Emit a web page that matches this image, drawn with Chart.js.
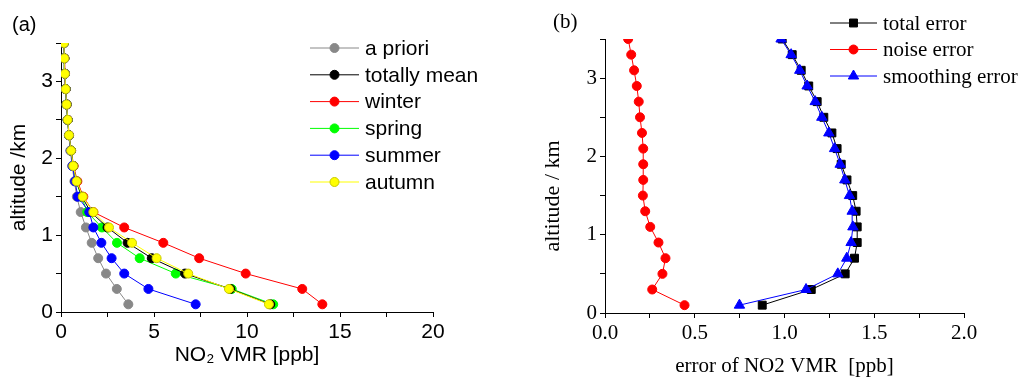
<!DOCTYPE html>
<html>
<head>
<meta charset="utf-8">
<script src="https://cdn.jsdelivr.net/npm/chart.js@4.4.1/dist/chart.umd.min.js"></script>
<style>
  html, body { margin: 0; padding: 0; background: #fff; }
  #wrap { position: relative; width: 1021px; height: 377px; }
  canvas { position: absolute; top: 0; }
  #chartA { left: 0; }
  #chartB { left: 510px; }
</style>
</head>
<body>
<div id="wrap">
  <canvas id="chartA" width="510" height="377"></canvas>
  <canvas id="chartB" width="511" height="377"></canvas>
</div>
<script>
// altitude levels (km), shared by both panels
const altitudes = [0.1, 0.3, 0.5, 0.7, 0.9, 1.1, 1.3, 1.5, 1.7, 1.9, 2.1, 2.3, 2.5, 2.7, 2.9, 3.1, 3.3, 3.5];

// panel (a): NO2 VMR profiles [ppb]
const aPriori  = [3.62, 3.0, 2.42, 2.0, 1.65, 1.34, 1.06, 0.85, 0.72, 0.6, 0.5, 0.42, 0.35, 0.3, 0.25, 0.21, 0.18, 0.16];
const totMean  = [11.25, 9.1, 6.67, 4.88, 3.58, 2.5, 1.6, 1.12, 0.83, 0.66, 0.54, 0.43, 0.36, 0.3, 0.25, 0.21, 0.18, 0.16];
const winter   = [14.05, 12.97, 9.93, 7.43, 5.5, 3.4, 1.74, 1.2, 0.88, 0.68, 0.55, 0.44, 0.37, 0.31, 0.26, 0.22, 0.19, 0.16];
const spring   = [11.41, 9.18, 6.17, 4.23, 3.01, 2.2, 1.41, 1.1, 0.82, 0.65, 0.54, 0.43, 0.36, 0.3, 0.25, 0.21, 0.18, 0.16];
const summer   = [7.24, 4.7, 3.4, 2.72, 2.17, 1.74, 1.52, 0.9, 0.76, 0.62, 0.52, 0.43, 0.36, 0.3, 0.25, 0.21, 0.18, 0.16];
const autumn   = [11.18, 9.03, 6.84, 5.14, 3.82, 2.58, 1.74, 1.17, 0.84, 0.66, 0.54, 0.43, 0.36, 0.3, 0.25, 0.21, 0.18, 0.16];

// panel (b): retrieval errors [ppb]
const totalErr  = [0.876, 1.149, 1.338, 1.39, 1.405, 1.405, 1.399, 1.38, 1.348, 1.316, 1.293, 1.264, 1.219, 1.182, 1.135, 1.093, 1.043, 0.987];
const noiseErr  = [0.443, 0.263, 0.32, 0.337, 0.298, 0.252, 0.224, 0.211, 0.213, 0.213, 0.213, 0.206, 0.195, 0.188, 0.177, 0.162, 0.146, 0.129];
const smoothErr = [0.749, 1.12, 1.297, 1.347, 1.371, 1.381, 1.377, 1.362, 1.336, 1.31, 1.279, 1.247, 1.208, 1.171, 1.126, 1.085, 1.037, 0.981];

// tick labels
const xTicksA = [0, 5, 10, 15, 20];
const yTicks = [0, 1, 2, 3];
const xTicksB = [0, 0.5, 1.0, 1.5, 2.0];

const SANS = '"Liberation Sans", Arial, sans-serif';
const SERIF = '"Liberation Serif", "Times New Roman", serif';

function profile(vals) {
  return vals.map((v, i) => ({ x: v, y: altitudes[i] }));
}

function drawMarker(ctx, style, x, y, r, fill, stroke) {
  ctx.beginPath();
  if (style === 'rect') {
    const s = r * Math.SQRT1_2;
    ctx.rect(x - s, y - s, 2 * s, 2 * s);
  } else if (style === 'triangle') {
    ctx.moveTo(x, y - r);
    ctx.lineTo(x + r * 0.866, y + r * 0.5);
    ctx.lineTo(x - r * 0.866, y + r * 0.5);
    ctx.closePath();
  } else {
    ctx.arc(x, y, r, 0, Math.PI * 2);
  }
  ctx.fillStyle = fill;
  ctx.fill();
  ctx.strokeStyle = stroke;
  ctx.lineWidth = 1;
  ctx.stroke();
}

// panel letter, in-plot legend and optional free text
const panelDecor = {
  id: 'panelDecor',
  afterDraw(chart, args, o) {
    const ctx = chart.ctx;
    ctx.save();
    ctx.fillStyle = '#000';
    ctx.textBaseline = 'middle';
    ctx.textAlign = 'left';
    ctx.font = o.labelFont;
    ctx.fillText(o.label, o.labelX, o.labelY);

    ctx.font = o.legFont;
    chart.data.datasets.forEach((ds, i) => {
      const y = o.legY + i * o.legDy;
      ctx.strokeStyle = ds.borderColor;
      ctx.lineWidth = 1;
      ctx.beginPath();
      ctx.moveTo(o.legX, y);
      ctx.lineTo(o.legX + o.legLen, y);
      ctx.stroke();
      drawMarker(ctx, ds.pointStyle, o.legX + o.legLen / 2, y, ds.pointRadius,
        ds.pointBackgroundColor, ds.pointBorderColor);
      ctx.fillStyle = '#000';
      ctx.fillText(ds.label, o.legX + o.legLen + 6, y + 1);
    });

    if (o.yTitle) {
      ctx.font = o.yTitle.font;
      ctx.translate(o.yTitle.x, o.yTitle.y);
      ctx.rotate(-Math.PI / 2);
      ctx.textAlign = 'center';
      ctx.fillText(o.yTitle.text, 0, 0);
    }
    ctx.restore();
  }
};

function series(label, vals, color, style, r, order, edge) {
  return {
    label: label,
    data: profile(vals),
    borderColor: color,
    backgroundColor: color,
    pointBackgroundColor: color,
    pointBorderColor: edge || color,
    pointBorderWidth: 1,
    pointStyle: style,
    pointRadius: r,
    borderWidth: 1,
    showLine: true,
    tension: 0,
    order: order
  };
}

function axis(min, max, step, labels, font, fmt, fit) {
  return {
    type: 'linear',
    min: min,
    max: max,
    border: { display: true, color: '#000', width: 1 },
    grid: { display: true, drawOnChartArea: false, drawTicks: true, tickLength: 5, color: '#000' },
    ticks: {
      stepSize: step,
      autoSkip: false,
      maxRotation: 0,
      color: '#000',
      font: font,
      padding: 3,
      callback: v => labels.some(t => Math.abs(t - v) < 1e-6) ? fmt(v) : ''
    },
    afterFit: fit
  };
}

// ---- panel (a)
const xA = axis(0, 20, 2.5, xTicksA, { family: SANS, size: 21 }, v => String(v), s => { s.height = 65; });
xA.title = { display: true, text: 'NO₂ VMR [ppb]', color: '#000', font: { family: SANS, size: 21 }, padding: { top: 0, bottom: 9 } };
const yA = axis(0, 3.5, 0.5, yTicks, { family: SANS, size: 21 }, v => String(v), s => { s.width = 61; });
yA.title = { display: true, text: 'altitude /km', color: '#000', font: { family: SANS, size: 21 }, padding: { top: 7, bottom: 0 } };

new Chart(document.getElementById('chartA'), {
  type: 'scatter',
  data: {
    datasets: [
      series('a priori', aPriori, '#888888', 'circle', 4.5, 5),
      series('totally mean', totMean, '#000000', 'circle', 4.5, 2),
      series('winter', winter, '#ff0000', 'circle', 4.5, 4),
      series('spring', spring, '#00ff00', 'circle', 4.5, 3),
      series('summer', summer, '#0000ff', 'circle', 4.5, 1),
      series('autumn', autumn, '#ffff00', 'circle', 4.5, 0, '#c8c800')
    ]
  },
  options: {
    responsive: false,
    devicePixelRatio: 1,
    animation: false,
    layout: { padding: { top: 43, right: 77, left: 0, bottom: 0 } },
    scales: { x: xA, y: yA },
    plugins: {
      legend: { display: false },
      tooltip: { enabled: false },
      panelDecor: {
        label: '(a)', labelX: 12, labelY: 25, labelFont: '20px ' + SANS,
        legX: 310, legY: 48, legDy: 26.8, legLen: 49, legFont: '21px ' + SANS
      }
    }
  },
  plugins: [panelDecor]
});

// ---- panel (b)
const xB = axis(0, 2, 0.25, xTicksB, { family: SERIF, size: 21 }, v => v.toFixed(1), s => { s.height = 64; });
xB.title = { display: true, text: 'error of NO2 VMR  [ppb]', color: '#000', font: { family: SERIF, size: 21, lineHeight: 1.0 }, padding: { top: 0, bottom: 0 } };
const yB = axis(0, 3.5, 0.5, yTicks, { family: SERIF, size: 21 }, v => String(v), s => { s.width = 95; });

new Chart(document.getElementById('chartB'), {
  type: 'scatter',
  data: {
    datasets: [
      series('total error', totalErr, '#000000', 'rect', 5.6, 2),
      series('noise error', noiseErr, '#ff0000', 'circle', 4.5, 1),
      series('smoothing error', smoothErr, '#0000ff', 'triangle', 6, 0)
    ]
  },
  options: {
    responsive: false,
    devicePixelRatio: 1,
    animation: false,
    layout: { padding: { top: 39, right: 57, left: 0, bottom: 0 } },
    scales: { x: xB, y: yB },
    plugins: {
      legend: { display: false },
      tooltip: { enabled: false },
      panelDecor: {
        label: '(b)', labelX: 43, labelY: 22, labelFont: '21px ' + SERIF,
        legX: 320, legY: 23, legDy: 26.5, legLen: 47, legFont: '21px ' + SERIF,
        yTitle: { text: 'altitude / km', x: 43, y: 196, font: '22px ' + SERIF }
      }
    }
  },
  plugins: [panelDecor]
});
</script>
</body>
</html>
